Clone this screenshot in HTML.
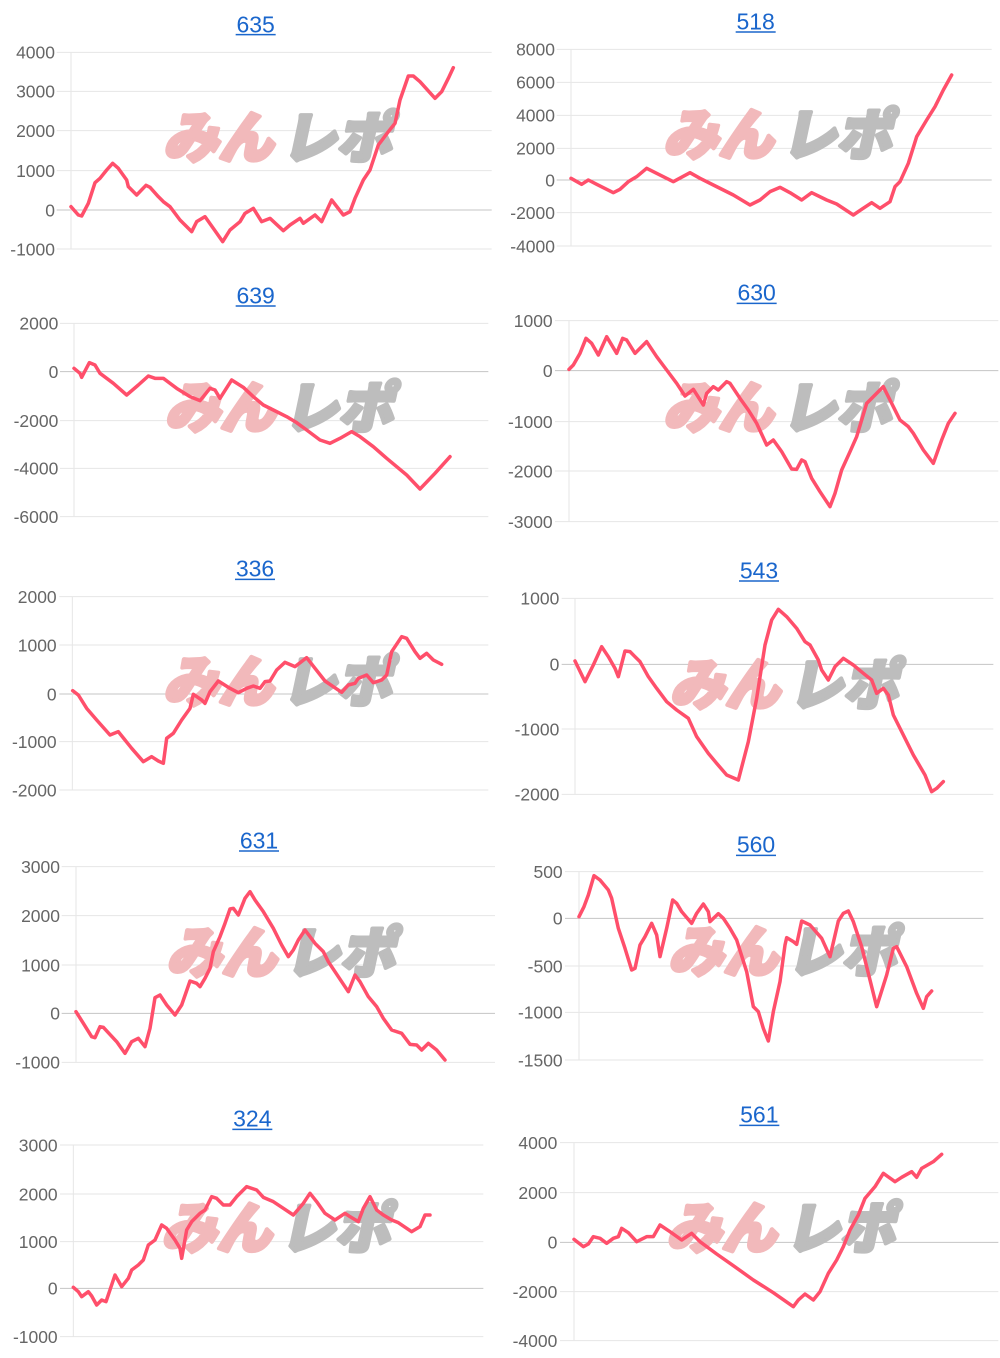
<!DOCTYPE html>
<html><head><meta charset="utf-8">
<style>
html,body{margin:0;padding:0;background:#fff;}
svg{display:block;}
.lbl{font-family:"Liberation Sans",sans-serif;font-size:52.5px;fill:#666;text-anchor:end;}
.ttl{font-family:"Liberation Sans",sans-serif;font-size:69px;fill:#1a66cc;text-anchor:middle;}
.g{stroke:#e6e6e6;stroke-width:1;vector-effect:non-scaling-stroke;fill:none;}
.z{stroke:#c4c4c4;stroke-width:1;vector-effect:non-scaling-stroke;fill:none;}
.ul{stroke:#1a66cc;stroke-width:1.5;vector-effect:non-scaling-stroke;}
.ln{stroke:#ff4f6b;stroke-width:3.5;vector-effect:non-scaling-stroke;fill:none;stroke-linejoin:round;stroke-linecap:round;}
.wm1{font-family:"Liberation Sans","Noto Sans CJK JP",sans-serif;font-weight:900;font-size:165px;fill:#f2b9bb;stroke:#f2b9bb;stroke-width:12;stroke-linejoin:round;}
.wm2{font-family:"Liberation Sans","Noto Sans CJK JP",sans-serif;font-weight:900;font-size:165px;fill:#bdbdbd;stroke:#bdbdbd;stroke-width:12;stroke-linejoin:round;}
</style></head>
<body>
<svg width="1000" height="1358" viewBox="0 0 1000 1358" xmlns="http://www.w3.org/2000/svg">

<!-- Chart 1: 635 -->
<g transform="translate(0,0) scale(0.333333)">
<line class="g" x1="170" y1="157" x2="1475" y2="157"/>
<line class="g" x1="170" y1="274" x2="1475" y2="274"/>
<line class="g" x1="170" y1="392" x2="1475" y2="392"/>
<line class="g" x1="170" y1="512" x2="1475" y2="512"/>
<line class="z" x1="170" y1="630" x2="1475" y2="630"/>
<line class="g" x1="170" y1="747" x2="1475" y2="747"/>
<line class="g" x1="213" y1="157" x2="213" y2="747"/>
<text class="lbl" x="165" y="176">4000</text>
<text class="lbl" x="165" y="293">3000</text>
<text class="lbl" x="165" y="411">2000</text>
<text class="lbl" x="165" y="531">1000</text>
<text class="lbl" x="165" y="649">0</text>
<text class="lbl" x="165" y="766">-1000</text>
<text class="ttl" x="767" y="97">635</text>
<line class="ul" x1="707" y1="104" x2="827" y2="104"/>
<g transform="translate(470,472) skewX(-12)"><text class="wm1" x="20" y="0">みん</text><text class="wm2" x="375" y="0">レポ</text></g>
<polyline class="ln" points="213,620 235,645 245,648 265,610 285,548 300,535 320,510 338,490 355,505 380,540 385,560 410,585 438,556 450,562 475,590 490,605 510,620 540,660 575,695 590,665 615,650 640,685 668,725 690,690 720,665 735,640 760,625 785,665 810,655 850,692 870,675 900,655 910,670 945,645 965,665 995,600 1030,645 1050,635 1065,595 1090,540 1110,510 1135,435 1165,395 1185,370 1200,300 1225,228 1240,228 1260,245 1305,295 1325,275 1345,235 1360,203"/>
</g>

<!-- Chart 2: 518 -->
<g transform="translate(500,0) scale(0.333333)">
<line class="g" x1="170" y1="148" x2="1475" y2="148"/>
<line class="g" x1="170" y1="247" x2="1475" y2="247"/>
<line class="g" x1="170" y1="346" x2="1475" y2="346"/>
<line class="g" x1="170" y1="445" x2="1475" y2="445"/>
<line class="z" x1="170" y1="540" x2="1475" y2="540"/>
<line class="g" x1="170" y1="638" x2="1475" y2="638"/>
<line class="g" x1="170" y1="738" x2="1475" y2="738"/>
<line class="g" x1="213" y1="148" x2="213" y2="738"/>
<text class="lbl" x="165" y="167">8000</text>
<text class="lbl" x="165" y="266">6000</text>
<text class="lbl" x="165" y="365">4000</text>
<text class="lbl" x="165" y="464">2000</text>
<text class="lbl" x="165" y="559">0</text>
<text class="lbl" x="165" y="657">-2000</text>
<text class="lbl" x="165" y="757">-4000</text>
<text class="ttl" x="767" y="88">518</text>
<line class="ul" x1="707" y1="96" x2="827" y2="96"/>
<g transform="translate(470,464) skewX(-12)"><text class="wm1" x="20" y="0">みん</text><text class="wm2" x="375" y="0">レポ</text></g>
<polyline class="ln" points="213,535 245,553 265,540 290,553 340,578 360,568 385,545 410,530 440,505 490,530 520,545 570,518 600,535 640,555 700,585 750,615 780,600 810,575 840,562 870,578 905,600 935,578 980,600 1010,612 1060,645 1085,628 1115,608 1140,625 1170,605 1185,560 1200,545 1225,490 1250,410 1280,360 1305,320 1330,270 1355,225"/>
</g>

<!-- Chart 3: 639 -->
<g transform="translate(0,270) scale(0.333333)">
<line class="g" x1="180" y1="160" x2="1465" y2="160"/>
<line class="z" x1="180" y1="305" x2="1465" y2="305"/>
<line class="g" x1="180" y1="452" x2="1465" y2="452"/>
<line class="g" x1="180" y1="595" x2="1465" y2="595"/>
<line class="g" x1="180" y1="740" x2="1465" y2="740"/>
<line class="g" x1="222" y1="160" x2="222" y2="740"/>
<text class="lbl" x="175" y="179">2000</text>
<text class="lbl" x="175" y="324">0</text>
<text class="lbl" x="175" y="471">-2000</text>
<text class="lbl" x="175" y="614">-4000</text>
<text class="lbl" x="175" y="759">-6000</text>
<text class="ttl" x="767" y="100">639</text>
<line class="ul" x1="707" y1="108" x2="827" y2="108"/>
<g transform="translate(475,472) skewX(-12)"><text class="wm1" x="20" y="0">みん</text><text class="wm2" x="375" y="0">レポ</text></g>
<polyline class="ln" points="222,295 240,310 245,322 268,278 285,285 300,310 340,340 380,375 415,345 445,318 465,325 490,325 530,355 570,380 600,392 630,355 645,360 660,385 695,330 730,352 760,380 790,405 820,420 860,440 890,458 920,480 960,510 990,520 1020,505 1055,485 1080,500 1120,530 1160,565 1220,615 1260,657 1305,610 1350,560"/>
</g>

<!-- Chart 4: 630 -->
<g transform="translate(500,270) scale(0.333333)">
<line class="g" x1="165" y1="152" x2="1495" y2="152"/>
<line class="z" x1="165" y1="302" x2="1495" y2="302"/>
<line class="g" x1="165" y1="455" x2="1495" y2="455"/>
<line class="g" x1="165" y1="603" x2="1495" y2="603"/>
<line class="g" x1="165" y1="755" x2="1495" y2="755"/>
<line class="g" x1="207" y1="152" x2="207" y2="755"/>
<text class="lbl" x="158" y="171">1000</text>
<text class="lbl" x="158" y="321">0</text>
<text class="lbl" x="158" y="474">-1000</text>
<text class="lbl" x="158" y="622">-2000</text>
<text class="lbl" x="158" y="774">-3000</text>
<text class="ttl" x="770" y="92">630</text>
<line class="ul" x1="710" y1="100" x2="830" y2="100"/>
<g transform="translate(470,472) skewX(-12)"><text class="wm1" x="20" y="0">みん</text><text class="wm2" x="375" y="0">レポ</text></g>
<polyline class="ln" points="207,298 220,285 240,250 258,205 275,220 295,255 320,200 350,250 368,205 380,210 405,250 440,215 470,260 500,300 530,340 555,378 580,358 610,405 620,370 640,350 655,360 680,335 690,340 720,385 745,420 770,460 800,525 820,510 845,545 875,597 890,598 905,570 915,575 935,625 960,665 990,710 1005,670 1025,600 1050,545 1070,500 1100,400 1150,350 1180,410 1200,450 1225,470 1240,490 1270,540 1300,580 1325,510 1345,460 1365,430"/>
</g>

<!-- Chart 5: 336 -->
<g transform="translate(0,545) scale(0.333333)">
<line class="g" x1="178" y1="155" x2="1465" y2="155"/>
<line class="g" x1="178" y1="300" x2="1465" y2="300"/>
<line class="z" x1="178" y1="447" x2="1465" y2="447"/>
<line class="g" x1="178" y1="590" x2="1465" y2="590"/>
<line class="g" x1="178" y1="735" x2="1465" y2="735"/>
<line class="g" x1="217" y1="155" x2="217" y2="735"/>
<text class="lbl" x="170" y="174">2000</text>
<text class="lbl" x="170" y="319">1000</text>
<text class="lbl" x="170" y="466">0</text>
<text class="lbl" x="170" y="609">-1000</text>
<text class="lbl" x="170" y="754">-2000</text>
<text class="ttl" x="765" y="95">336</text>
<line class="ul" x1="705" y1="103" x2="825" y2="103"/>
<g transform="translate(470,469) skewX(-12)"><text class="wm1" x="20" y="0">みん</text><text class="wm2" x="375" y="0">レポ</text></g>
<polyline class="ln" points="218,437 235,450 260,490 290,525 330,570 355,560 375,585 395,610 430,650 455,635 475,648 490,655 500,580 520,565 545,525 570,490 580,448 605,465 615,475 630,440 655,408 690,430 715,443 740,430 760,423 780,430 795,410 810,408 830,375 855,352 885,365 920,338 945,370 975,408 1000,425 1025,442 1045,420 1065,415 1075,400 1100,390 1120,413 1145,405 1160,390 1175,320 1205,275 1220,280 1245,320 1260,340 1280,325 1300,345 1325,358"/>
</g>

<!-- Chart 6: 543 -->
<g transform="translate(500,545) scale(0.333333)">
<line class="g" x1="185" y1="160" x2="1480" y2="160"/>
<line class="z" x1="185" y1="358" x2="1480" y2="358"/>
<line class="g" x1="185" y1="552" x2="1480" y2="552"/>
<line class="g" x1="185" y1="748" x2="1480" y2="748"/>
<line class="g" x1="225" y1="160" x2="225" y2="748"/>
<text class="lbl" x="178" y="179">1000</text>
<text class="lbl" x="178" y="377">0</text>
<text class="lbl" x="178" y="571">-1000</text>
<text class="lbl" x="178" y="767">-2000</text>
<text class="ttl" x="777" y="100">543</text>
<line class="ul" x1="717" y1="108" x2="837" y2="108"/>
<g transform="translate(490,479) skewX(-12)"><text class="wm1" x="20" y="0">みん</text><text class="wm2" x="375" y="0">レポ</text></g>
<polyline class="ln" points="225,348 255,410 280,360 305,305 325,335 345,370 355,395 375,318 390,320 420,350 445,395 470,430 500,470 530,495 565,520 590,575 625,625 650,655 680,690 715,705 745,590 770,460 795,300 815,225 835,193 860,215 890,250 915,290 930,300 955,345 965,375 985,405 1005,365 1030,340 1060,360 1090,385 1115,405 1130,445 1150,430 1165,450 1180,510 1210,570 1240,630 1275,690 1295,740 1310,730 1330,710"/>
</g>

<!-- Chart 7: 631 -->
<g transform="translate(0,815) scale(0.333333)">
<line class="g" x1="185" y1="155" x2="1485" y2="155"/>
<line class="g" x1="185" y1="302" x2="1485" y2="302"/>
<line class="g" x1="185" y1="450" x2="1485" y2="450"/>
<line class="z" x1="185" y1="595" x2="1485" y2="595"/>
<line class="g" x1="185" y1="742" x2="1485" y2="742"/>
<line class="g" x1="228" y1="155" x2="228" y2="742"/>
<text class="lbl" x="180" y="174">3000</text>
<text class="lbl" x="180" y="321">2000</text>
<text class="lbl" x="180" y="469">1000</text>
<text class="lbl" x="180" y="614">0</text>
<text class="lbl" x="180" y="761">-1000</text>
<text class="ttl" x="777" y="100">631</text>
<line class="ul" x1="717" y1="108" x2="837" y2="108"/>
<g transform="translate(480,472) skewX(-12)"><text class="wm1" x="20" y="0">みん</text><text class="wm2" x="375" y="0">レポ</text></g>
<polyline class="ln" points="228,590 250,625 275,665 285,668 300,635 310,637 350,680 375,715 395,680 415,670 435,695 450,640 465,548 480,540 500,570 525,600 545,570 570,498 590,505 600,515 615,490 630,460 640,410 660,365 675,325 690,282 700,280 715,300 735,250 750,230 765,255 790,290 820,340 845,390 865,425 880,405 895,375 915,345 945,385 970,410 985,440 1005,470 1025,500 1045,530 1065,480 1080,500 1105,545 1130,575 1150,610 1175,645 1205,655 1230,688 1250,690 1265,705 1285,685 1310,705 1335,735"/>
</g>

<!-- Chart 8: 560 -->
<g transform="translate(500,815) scale(0.333333)">
<line class="g" x1="195" y1="170" x2="1450" y2="170"/>
<line class="z" x1="195" y1="310" x2="1450" y2="310"/>
<line class="g" x1="195" y1="453" x2="1450" y2="453"/>
<line class="g" x1="195" y1="592" x2="1450" y2="592"/>
<line class="g" x1="195" y1="735" x2="1450" y2="735"/>
<line class="g" x1="237" y1="170" x2="237" y2="735"/>
<text class="lbl" x="188" y="189">500</text>
<text class="lbl" x="188" y="329">0</text>
<text class="lbl" x="188" y="472">-500</text>
<text class="lbl" x="188" y="611">-1000</text>
<text class="lbl" x="188" y="754">-1500</text>
<text class="ttl" x="768" y="113">560</text>
<line class="ul" x1="708" y1="121" x2="828" y2="121"/>
<g transform="translate(485,469) skewX(-12)"><text class="wm1" x="20" y="0">みん</text><text class="wm2" x="375" y="0">レポ</text></g>
<polyline class="ln" points="237,305 252,275 265,240 282,182 300,195 325,225 335,250 355,340 375,400 395,465 405,460 420,390 435,365 455,325 470,360 480,425 500,340 518,255 530,265 545,290 575,325 590,295 610,267 625,290 630,320 655,296 670,310 690,340 710,375 740,470 760,575 775,590 790,640 805,678 820,590 840,500 855,390 860,368 880,380 890,388 905,318 930,330 965,370 990,425 1015,318 1030,295 1045,288 1060,320 1085,395 1105,475 1130,575 1160,480 1180,400 1190,395 1220,455 1250,535 1270,580 1280,545 1295,528"/>
</g>

<!-- Chart 9: 324 -->
<g transform="translate(0,1090) scale(0.333333)">
<line class="g" x1="180" y1="165" x2="1450" y2="165"/>
<line class="g" x1="180" y1="312" x2="1450" y2="312"/>
<line class="g" x1="180" y1="455" x2="1450" y2="455"/>
<line class="z" x1="180" y1="595" x2="1450" y2="595"/>
<line class="g" x1="180" y1="740" x2="1450" y2="740"/>
<line class="g" x1="220" y1="165" x2="220" y2="740"/>
<text class="lbl" x="173" y="184">3000</text>
<text class="lbl" x="173" y="331">2000</text>
<text class="lbl" x="173" y="474">1000</text>
<text class="lbl" x="173" y="614">0</text>
<text class="lbl" x="173" y="759">-1000</text>
<text class="ttl" x="757" y="110">324</text>
<line class="ul" x1="697" y1="118" x2="817" y2="118"/>
<g transform="translate(465,474) skewX(-12)"><text class="wm1" x="20" y="0">みん</text><text class="wm2" x="375" y="0">レポ</text></g>
<polyline class="ln" points="220,592 235,605 245,620 265,605 275,618 290,645 305,630 318,635 345,555 365,590 385,565 395,540 415,525 430,510 445,465 465,450 485,405 500,415 525,450 540,475 545,505 560,420 575,395 600,370 615,360 635,320 650,325 670,345 690,345 710,320 740,290 770,300 790,322 820,335 850,355 880,375 910,340 930,310 950,335 975,370 1005,390 1035,370 1050,380 1075,395 1090,355 1110,320 1130,360 1150,375 1175,390 1195,398 1220,415 1235,425 1260,410 1275,375 1290,375"/>
</g>

<!-- Chart 10: 561 -->
<g transform="translate(500,1090) scale(0.333333)">
<line class="g" x1="180" y1="158" x2="1495" y2="158"/>
<line class="g" x1="180" y1="308" x2="1495" y2="308"/>
<line class="z" x1="180" y1="457" x2="1495" y2="457"/>
<line class="g" x1="180" y1="605" x2="1495" y2="605"/>
<line class="g" x1="180" y1="752" x2="1495" y2="752"/>
<line class="g" x1="222" y1="158" x2="222" y2="752"/>
<text class="lbl" x="172" y="177">4000</text>
<text class="lbl" x="172" y="327">2000</text>
<text class="lbl" x="172" y="476">0</text>
<text class="lbl" x="172" y="624">-2000</text>
<text class="lbl" x="172" y="771">-4000</text>
<text class="ttl" x="778" y="98">561</text>
<line class="ul" x1="718" y1="106" x2="838" y2="106"/>
<g transform="translate(480,474) skewX(-12)"><text class="wm1" x="20" y="0">みん</text><text class="wm2" x="375" y="0">レポ</text></g>
<polyline class="ln" points="222,448 250,470 265,462 280,440 300,445 320,460 340,445 355,440 365,415 385,428 410,455 440,440 460,440 480,405 510,425 545,450 575,430 600,455 650,492 700,527 760,570 820,608 880,650 895,630 915,612 940,630 960,605 985,550 1010,510 1030,470 1050,420 1075,375 1095,325 1125,290 1150,250 1185,275 1205,262 1235,245 1250,262 1265,235 1300,215 1325,193"/>
</g>

</svg>
</body></html>
